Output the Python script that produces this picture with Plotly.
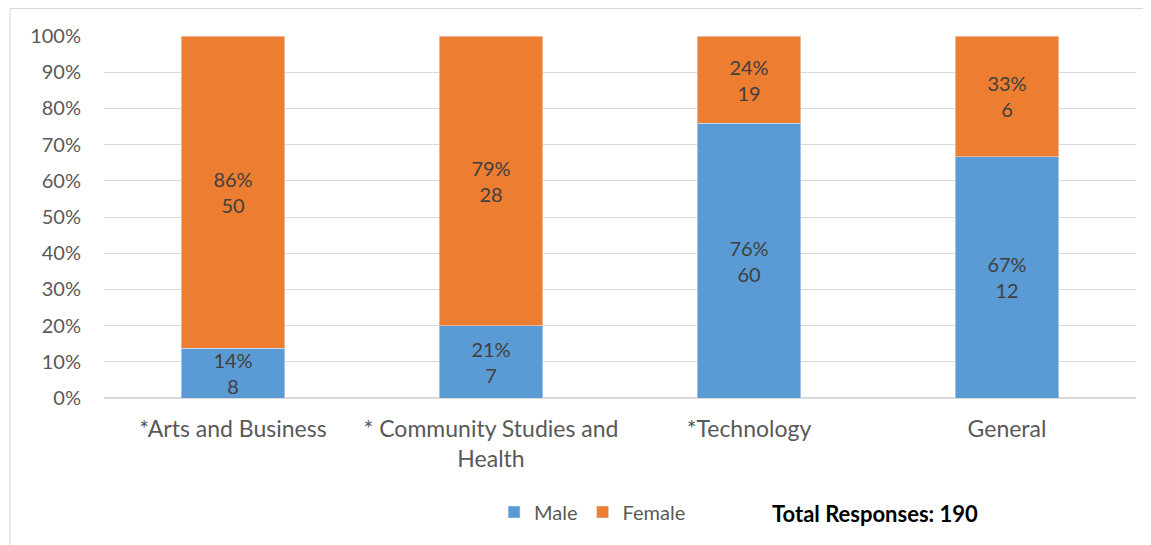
import plotly.graph_objects as go

# data
categories = ["*Arts and Business", "* Community Studies and<br>Health", "*Technology", "General"]
male_counts = [8, 7, 60, 12]
female_counts = [50, 28, 19, 6]
male_pct = ["14%", "21%", "76%", "67%"]
female_pct = ["86%", "79%", "24%", "33%"]
y_ticks = [0, 10, 20, 30, 40, 50, 60, 70, 80, 90, 100]
y_tick_labels = [f"{v}%" for v in y_ticks]
total_responses = sum(male_counts) + sum(female_counts)

FONT = "Lato, Open Sans, sans-serif"
GREY = "#595959"

fig = go.Figure()

fig.add_trace(go.Bar(
    x=categories,
    y=male_counts,
    name="Male",
    marker_color="#5B9BD5",
    text=[f"{p}<br>{c}" for p, c in zip(male_pct, male_counts)],
    textposition="inside",
    insidetextanchor="middle",
    textangle=0,
    constraintext="none",
    textfont=dict(size=20, color="#404040", family=FONT),
    hoverinfo="skip",
))

fig.add_trace(go.Bar(
    x=categories,
    y=female_counts,
    name="Female",
    marker_color="#ED7D31",
    text=[f"{p}<br>{c}" for p, c in zip(female_pct, female_counts)],
    textposition="inside",
    insidetextanchor="middle",
    textangle=0,
    constraintext="none",
    textfont=dict(size=20, color="#404040", family=FONT),
    hoverinfo="skip",
))

# page body has an 8px margin, so the margins are shifted by 8px
fig.update_layout(
    barmode="stack",
    barnorm="percent",
    bargap=0.6,
    width=1151,
    height=545,
    margin=dict(l=96, r=23, t=28, b=155),
    paper_bgcolor="white",
    plot_bgcolor="white",
    font=dict(family=FONT, size=20, color=GREY),
    legend=dict(
        orientation="h",
        x=0.378, xanchor="left",
        y=-0.315, yanchor="middle",
        font=dict(size=20, color=GREY),
        itemwidth=30,
        traceorder="normal",
    ),
    xaxis=dict(
        showgrid=False,
        showline=False,
        ticks="",
        tickfont=dict(size=23, color=GREY),
        ticklabelstandoff=15,
    ),
    yaxis=dict(
        range=[0, 100],
        tickvals=y_ticks,
        ticktext=y_tick_labels,
        showgrid=True,
        gridcolor="#d9d9d9",
        gridwidth=1,
        zeroline=True,
        zerolinecolor="#d9d9d9",
        showline=False,
        ticks="",
        tickfont=dict(size=20, color=GREY),
        ticklabelstandoff=22,
    ),
    shapes=[dict(
        type="rect",
        xref="paper", yref="paper",
        x0=-0.0911, x1=1.05,
        y0=-0.6, y1=1.0760,
        line=dict(color="#d9d9d9", width=1),
        fillcolor="rgba(0,0,0,0)",
        layer="below",
    )],
)

fig.add_annotation(
    text=f"<b>Total Responses: {total_responses}</b>",
    xref="paper", yref="paper",
    x=0.645, xanchor="left",
    y=-0.32, yanchor="middle",
    showarrow=False,
    font=dict(size=22, color="#000000", family=FONT),
)

fig.write_html("out.html")
